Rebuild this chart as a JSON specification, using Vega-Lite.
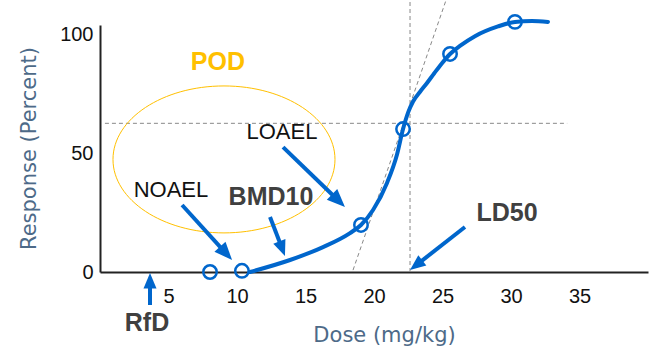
{
  "$schema": "https://vega.github.io/schema/vega-lite/v6.json",
  "width": 548,
  "height": 247,
  "autosize": {"type": "none"},
  "padding": {"left": 100, "top": 25, "right": 2, "bottom": 88},
  "background": "white",
  "config": {"view": {"stroke": null}},
  "datasets": {
    "dash": [
      {"name": "h50", "x": 0.36, "y": 62.6, "x2": 34.1, "y2": 62.6},
      {"name": "vLD50", "x": 22.63, "y": 0, "x2": 22.63, "y2": 114.5},
      {"name": "tangent", "x": 18.47, "y": 0.8, "x2": 25.26, "y2": 114.5}
    ],
    "ellipse": [{"name": "POD", "x": 9.05, "y": 47.4}],
    "curve": [
      {"x": 10.95, "y": 0},
      {"x": 13.87, "y": 5.05},
      {"x": 16.28, "y": 10.5},
      {"x": 18.25, "y": 16.4},
      {"x": 19.05, "y": 19.8},
      {"x": 19.93, "y": 26.1},
      {"x": 20.95, "y": 37.5},
      {"x": 21.68, "y": 49.5},
      {"x": 22.12, "y": 60.2},
      {"x": 22.5, "y": 67.3},
      {"x": 22.85, "y": 71.8},
      {"x": 23.35, "y": 75.8},
      {"x": 23.87, "y": 79.6},
      {"x": 24.4, "y": 83.7},
      {"x": 24.95, "y": 87.8},
      {"x": 25.55, "y": 91.8},
      {"x": 26.3, "y": 95.3},
      {"x": 27.37, "y": 99.3},
      {"x": 29.05, "y": 103.4},
      {"x": 30.29, "y": 105.3},
      {"x": 31.53, "y": 105.7},
      {"x": 32.7, "y": 105.3}
    ],
    "obs": [
      {"x": 8.03, "y": 0},
      {"x": 10.36, "y": 0.5},
      {"x": 19.05, "y": 19.8},
      {"x": 22.12, "y": 60.2},
      {"x": 25.55, "y": 91.8},
      {"x": 30.29, "y": 105.3}
    ],
    "shafts": [
      {"name": "RfD", "x": 3.65, "y": -13.9, "x2": 3.65, "y2": -5.5},
      {"name": "NOAEL", "x": 5.99, "y": 28.2, "x2": 8.95, "y2": 9.43},
      {"name": "BMD10", "x": 12.41, "y": 23.16, "x2": 13.19, "y2": 11.45},
      {"name": "LOAEL", "x": 13.36, "y": 52.6, "x2": 17.15, "y2": 31.45},
      {"name": "LD50", "x": 26.64, "y": 18.95, "x2": 23.32, "y2": 3.96}
    ],
    "heads": [
      {"name": "RfD", "x": 3.65, "y": -0.42},
      {"name": "NOAEL", "x": 9.64, "y": 5.05},
      {"name": "BMD10", "x": 13.5, "y": 6.74},
      {"name": "LOAEL", "x": 17.88, "y": 27.4},
      {"name": "LD50", "x": 22.63, "y": 0.84}
    ],
    "labels": [
      {"label": "POD", "x": 8.61, "y": 88.4},
      {"label": "LOAEL", "x": 13.28, "y": 58.9},
      {"label": "NOAEL", "x": 5.18, "y": 34.7},
      {"label": "BMD10", "x": 12.48, "y": 31.6},
      {"label": "LD50", "x": 29.71, "y": 24.8},
      {"label": "RfD", "x": 3.43, "y": -21.5}
    ]
  },
  "encoding": {
    "x": {
      "field": "x",
      "type": "quantitative",
      "scale": {"domain": [0, 40], "nice": false, "zero": false},
      "axis": {
        "title": "Dose (mg/kg)",
        "values": [5, 10, 15, 20, 25, 30, 35],
        "grid": false,
        "ticks": false,
        "domainColor": "#222222",
        "domainWidth": 2,
        "labelFont": "Liberation Sans",
        "labelFontSize": 20,
        "labelColor": "#111111",
        "labelPadding": 14,
        "titleFont": "DejaVu Sans",
        "titleFontSize": 21,
        "titleFontWeight": "normal",
        "titleColor": "#4d6a88",
        "titleX": 284,
        "titleY": 63,
        "titleBaseline": "middle"
      }
    },
    "y": {
      "field": "y",
      "type": "quantitative",
      "scale": {"domain": [0, 104], "nice": false, "zero": false},
      "axis": {
        "title": "Response (Percent)",
        "values": [0, 50, 100],
        "grid": false,
        "ticks": false,
        "domainColor": "#222222",
        "domainWidth": 2,
        "labelFont": "Liberation Sans",
        "labelFontSize": 20,
        "labelColor": "#111111",
        "labelPadding": 7,
        "titleFont": "DejaVu Sans",
        "titleFontSize": 21,
        "titleFontWeight": "normal",
        "titleColor": "#4d6a88",
        "titleX": -71,
        "titleY": 123,
        "titleBaseline": "middle"
      }
    }
  },
  "layer": [
    {
      "data": {"name": "dash"},
      "mark": {"type": "rule", "color": "#888888", "strokeWidth": 1, "strokeDash": [4, 3]},
      "encoding": {"x2": {"field": "x2"}, "y2": {"field": "y2"}}
    },
    {
      "data": {"name": "ellipse"},
      "mark": {
        "type": "point",
        "shape": "M-1,0C-1,-0.3656,-0.5523,-0.662,0,-0.662C0.5523,-0.662,1,-0.3656,1,0C1,0.3656,0.5523,0.662,0,0.662C-0.5523,0.662,-1,0.3656,-1,0Z",
        "size": 49284,
        "filled": false,
        "stroke": "#ffc000",
        "strokeWidth": 1,
        "opacity": 1
      }
    },
    {
      "data": {"name": "curve"},
      "mark": {"type": "line", "color": "#0066cc", "strokeWidth": 4, "interpolate": "monotone", "strokeCap": "round"}
    },
    {
      "data": {"name": "obs"},
      "mark": {"type": "point", "shape": "circle", "size": 180, "filled": false, "stroke": "#0066cc", "strokeWidth": 2.5, "opacity": 1}
    },
    {
      "data": {"name": "shafts"},
      "mark": {"type": "rule", "color": "#0066cc", "strokeWidth": 4},
      "encoding": {"x2": {"field": "x2"}, "y2": {"field": "y2"}}
    },
    {
      "data": {"name": "heads"},
      "mark": {"type": "point", "shape": "M0,0L-0.5,1.2L0.5,1.2Z", "filled": true, "color": "#0066cc", "opacity": 1, "strokeWidth": 0},
      "encoding": {
        "angle": {
          "condition": [
            {"test": "datum.name === 'NOAEL'", "value": 137.7},
            {"test": "datum.name === 'BMD10'", "value": 159},
            {"test": "datum.name === 'LOAEL'", "value": 134.1},
            {"test": "datum.name === 'LD50'", "value": 232}
          ],
          "value": 0
        },
        "size": {
          "condition": [
            {"test": "datum.name === 'NOAEL' || datum.name === 'LOAEL'", "value": 900}
          ],
          "value": 676
        }
      }
    },
    {
      "data": {"name": "labels"},
      "transform": [{"filter": "datum.label === 'NOAEL' || datum.label === 'LOAEL'"}],
      "mark": {"type": "text", "font": "Liberation Sans", "fontSize": 22, "color": "#111111", "align": "center", "baseline": "middle"},
      "encoding": {"text": {"field": "label"}}
    },
    {
      "data": {"name": "labels"},
      "transform": [{"filter": "datum.label === 'BMD10' || datum.label === 'LD50' || datum.label === 'RfD'"}],
      "mark": {"type": "text", "font": "Liberation Sans", "fontSize": 25, "fontWeight": "bold", "color": "#404040", "align": "center", "baseline": "middle"},
      "encoding": {"text": {"field": "label"}}
    },
    {
      "data": {"name": "labels"},
      "transform": [{"filter": "datum.label === 'POD'"}],
      "mark": {"type": "text", "font": "Liberation Sans", "fontSize": 25, "fontWeight": "bold", "color": "#ffc000", "align": "center", "baseline": "middle"},
      "encoding": {"text": {"field": "label"}}
    }
  ]
}
